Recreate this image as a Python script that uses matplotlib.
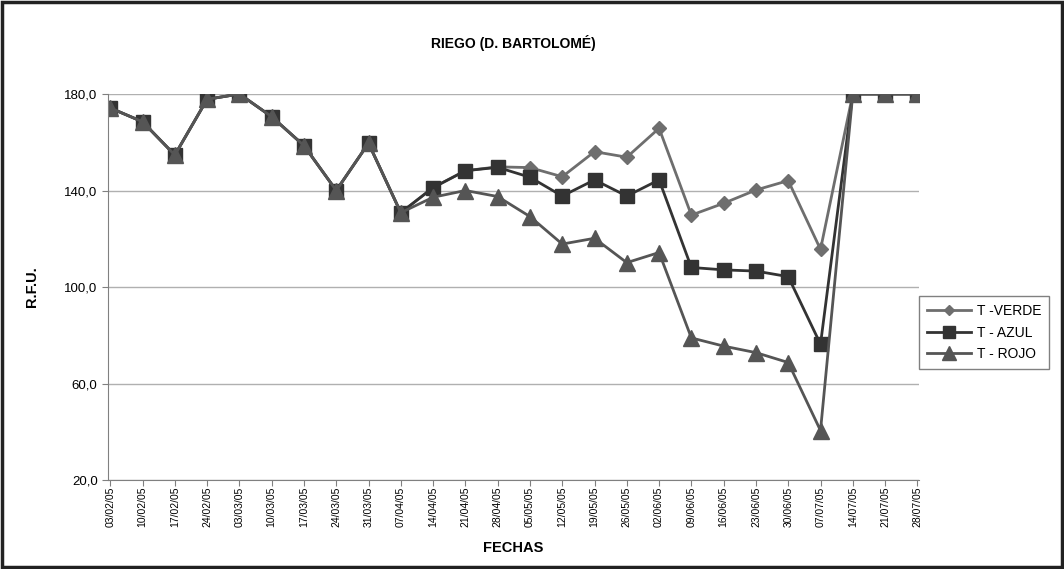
import matplotlib
matplotlib.use('Agg')
from matplotlib import pyplot as plt

plt.rcParams['font.family'] = ['Liberation Sans', 'DejaVu Sans']

fechas = ['03/02/05', '10/02/05', '17/02/05', '24/02/05', '03/03/05', '10/03/05',
          '17/03/05', '24/03/05', '31/03/05', '07/04/05', '14/04/05', '21/04/05',
          '28/04/05', '05/05/05', '12/05/05', '19/05/05', '26/05/05', '02/06/05',
          '09/06/05', '16/06/05', '23/06/05', '30/06/05', '07/07/05', '14/07/05',
          '21/07/05', '28/07/05']

comun = [174.2, 168.5, 154.7, 177.8, 180.0, 170.6, 158.6, 140.0, 159.6, 130.8]

t_verde = comun + [141.2, 148.2, 149.8, 149.5, 145.7, 156.1, 153.8, 165.8,
                   129.8, 134.7, 140.2, 144.1, 115.6, 180.0, 180.0, 180.0]
t_azul = comun + [141.2, 148.2, 149.6, 145.5, 137.7, 144.4, 137.7, 144.4,
                  108.1, 107.1, 106.6, 104.3, 76.3, 180.0, 180.0, 180.0]
t_rojo = comun + [137.2, 140.0, 137.5, 129.2, 117.8, 120.2, 110.1, 114.3,
                  78.9, 75.5, 72.8, 68.7, 40.5, 180.0, 180.0, 180.0]

x = list(range(len(fechas)))

fig = plt.figure(figsize=(10.64, 5.69), dpi=100)
ax = fig.add_axes([0.1015, 0.1564, 0.7625, 0.6784])

ax.plot(x, t_verde, c='#6e6e6e', lw=2, marker='D', ms=7, mec='#6e6e6e', label='T -VERDE')
ax.plot(x, t_azul, c='#333333', lw=2, marker='s', ms=10, mec='#333333', label='T - AZUL')
ax.plot(x, t_rojo, c='#555555', lw=2, marker='^', ms=12, mec='#555555', label='T - ROJO')

ax.set_xlim(-0.07, 25.06)
ax.set_ylim(20, 180)
ax.set_yticks([20, 60, 100, 140, 180])
ax.set_yticklabels(['20,0', '60,0', '100,0', '140,0', '180,0'])
ax.set_xticks(x)
ax.set_xticklabels(fechas, rotation=90, fontsize=7.5)
ax.tick_params(axis='y', labelsize=9.5, length=4, color='#808080')
ax.tick_params(axis='x', length=4, color='#808080', pad=1)
ax.yaxis.grid(True, color='#b0b0b0', lw=1)
ax.set_axisbelow(True)
for side in ['top', 'right']:
    ax.spines[side].set_visible(False)
for side in ['left', 'bottom']:
    ax.spines[side].set_color('#808080')

ax.set_title('RIEGO (D. BARTOLOMÉ)', fontsize=10, fontweight='bold', pad=33)
ax.set_xlabel('FECHAS', fontsize=10.5, fontweight='bold', labelpad=10)
ax.set_ylabel('R.F.U.', fontsize=10.5, fontweight='bold', labelpad=18)

leg = ax.legend(loc='center left', bbox_to_anchor=(1.0, 0.382), fontsize=10,
                fancybox=False, edgecolor='#808080', framealpha=1,
                borderpad=0.55, labelspacing=0.55, handlelength=3.2,
                handletextpad=0.4, borderaxespad=0, markerscale=0.8)
leg.get_frame().set_linewidth(1)

# outer frame
fig.patches.append(plt.Rectangle((0.002, 0.003), 0.996, 0.994, transform=fig.transFigure,
                                 fill=False, ec='#222222', lw=2.5))

fig.savefig('out.png', dpi=100)
